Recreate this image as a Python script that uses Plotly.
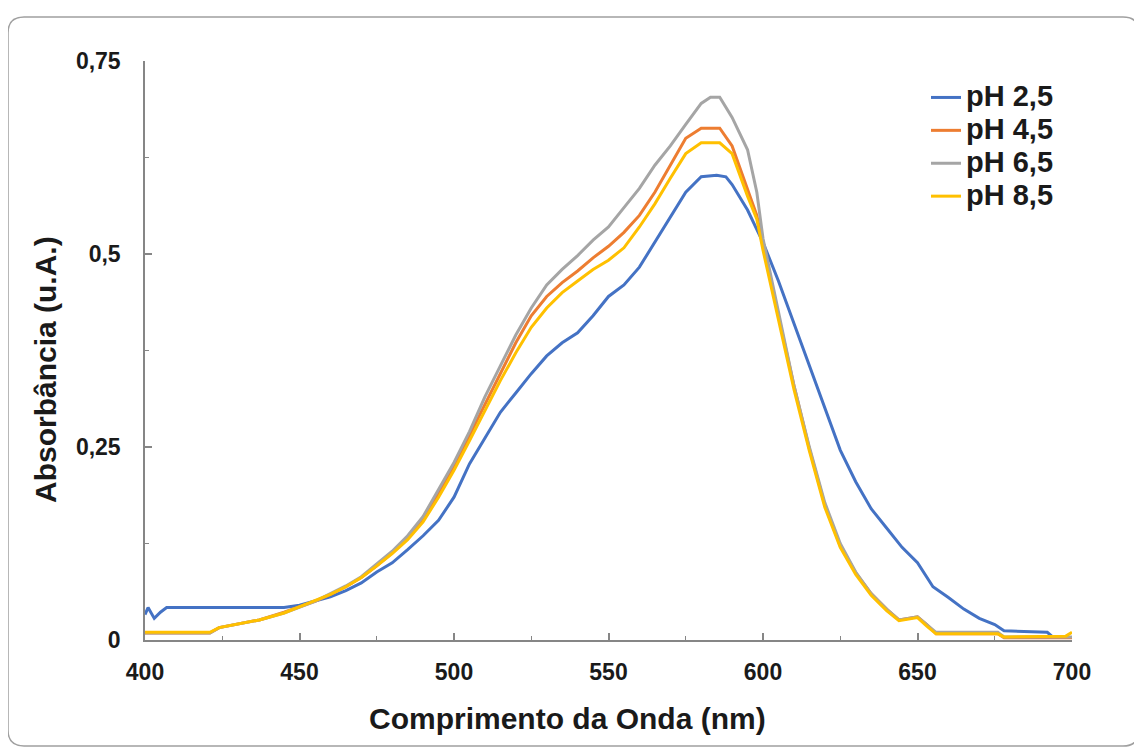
import plotly.graph_objects as go

# ---------------- data ----------------
wl_ph25 = [400, 401, 403, 405, 407, 445, 450, 455, 460, 465, 470, 475, 480, 485, 490, 495,
           500, 505, 510, 515, 520, 525, 530, 535, 540, 545, 550, 555, 560, 565, 570, 575,
           580, 585, 588, 590, 595, 600, 605, 610, 615, 620, 625, 630, 635, 640, 645, 650,
           655, 660, 665, 670, 675, 678, 692, 694]
abs_ph25 = [0.033, 0.042, 0.028, 0.036, 0.042, 0.042, 0.045, 0.050, 0.056, 0.064, 0.074, 0.088,
            0.100, 0.117, 0.135, 0.155, 0.185, 0.228, 0.262, 0.295, 0.320, 0.345, 0.368, 0.385,
            0.398, 0.420, 0.445, 0.460, 0.483, 0.515, 0.548, 0.580, 0.600, 0.602, 0.600, 0.590,
            0.557, 0.515, 0.465, 0.410, 0.355, 0.300, 0.246, 0.205, 0.170, 0.145, 0.120, 0.100,
            0.069, 0.055, 0.040, 0.028, 0.020, 0.012, 0.010, 0.003]

wl_common = [400, 421, 424, 437, 445, 450, 455, 460, 465, 470, 475, 480, 485, 490, 495,
             500, 505, 510, 515, 520, 525, 530, 535, 540, 545, 550, 555, 560, 565, 570, 575,
             580, 583, 586, 590, 595, 598, 600, 605, 610, 615, 620, 625, 630, 635, 640, 644,
             647, 650, 653, 656, 676, 678, 698, 700]

abs_ph45 = [0.009, 0.009, 0.016, 0.026, 0.036, 0.043, 0.050, 0.059, 0.069, 0.081, 0.096, 0.113,
            0.132, 0.156, 0.190, 0.225, 0.265, 0.305, 0.345, 0.385, 0.420, 0.445, 0.463, 0.478,
            0.495, 0.510, 0.528, 0.550, 0.580, 0.615, 0.650, 0.663, 0.663, 0.663, 0.640, 0.585,
            0.550, 0.510, 0.420, 0.330, 0.248, 0.175, 0.122, 0.087, 0.060, 0.040, 0.026, 0.028,
            0.030, 0.020, 0.008, 0.008, 0.003, 0.003, 0.003]

abs_ph65 = [0.009, 0.009, 0.016, 0.026, 0.035, 0.043, 0.050, 0.060, 0.070, 0.082, 0.098, 0.115,
            0.135, 0.160, 0.195, 0.230, 0.270, 0.315, 0.355, 0.395, 0.430, 0.460, 0.480, 0.498,
            0.518, 0.535, 0.560, 0.585, 0.615, 0.640, 0.668, 0.695, 0.703, 0.703, 0.677, 0.635,
            0.580, 0.520, 0.425, 0.330, 0.250, 0.178, 0.125, 0.088, 0.060, 0.040, 0.026, 0.028,
            0.030, 0.020, 0.010, 0.010, 0.004, 0.004, 0.004]

abs_ph85 = [0.010, 0.010, 0.016, 0.026, 0.035, 0.043, 0.050, 0.059, 0.069, 0.081, 0.096, 0.112,
            0.130, 0.153, 0.185, 0.220, 0.258, 0.298, 0.336, 0.372, 0.405, 0.430, 0.450, 0.465,
            0.480, 0.492, 0.508, 0.535, 0.565, 0.598, 0.630, 0.644, 0.644, 0.644, 0.630, 0.575,
            0.545, 0.505, 0.415, 0.325, 0.245, 0.172, 0.120, 0.085, 0.058, 0.038, 0.025, 0.027,
            0.029, 0.018, 0.008, 0.008, 0.004, 0.005, 0.010]

series_names = ["pH 2,5", "pH 4,5", "pH 6,5", "pH 8,5"]
series_x = [wl_ph25, wl_common, wl_common, wl_common]
series_y = [abs_ph25, abs_ph45, abs_ph65, abs_ph85]
series_colors = ["#4472C4", "#ED7D31", "#A5A5A5", "#FFC000"]

x_ticks = [400, 450, 500, 550, 600, 650, 700]
x_ticktext = ["400", "450", "500", "550", "600", "650", "700"]
y_ticks = [0, 0.25, 0.5, 0.75]
y_ticktext = ["0", "0,25", "0,5", "0,75"]

# ---------------- figure ----------------
W, H = 1142, 749
OFF = 8  # page body margin offset
# target plot-area in screen pixels: x 145..1072, y 61..640
PX0, PX1, PY0, PY1 = 145, 1072, 61, 640
L = PX0 - OFF
T = PY0 - OFF
R = W - (PX1 - OFF)
B = H - (PY1 - OFF)
pw, ph = PX1 - PX0, PY1 - PY0

def px2paper(px, py):
    """screen pixel -> paper coords"""
    return (px - PX0) / pw, (PY1 - py) / ph

fig = go.Figure()
for name, xs, ys, col in zip(series_names, series_x, series_y, series_colors):
    fig.add_trace(go.Scatter(
        x=xs, y=ys, mode="lines",
        name=f'<span style="font-size:29px">{name}</span>',
        line=dict(color=col, width=3)))

font_family = "Liberation Sans, Arial, sans-serif"
axis_col = "#868686"
txt_col = "#1a1a1a"

fig.update_layout(
    width=W, height=H, autosize=False,
    margin=dict(l=L, r=R, t=T, b=B, pad=0),
    paper_bgcolor="white", plot_bgcolor="white",
    font=dict(family=font_family, color=txt_col),
    showlegend=True,
    legend=dict(x=px2paper(926, 0)[0], y=px2paper(0, 76)[1], xanchor="left", yanchor="top",
                font=dict(size=23, family=font_family, color=txt_col, weight="bold"),
                bgcolor="rgba(0,0,0,0)", itemwidth=30, tracegroupgap=0),
)

fig.update_xaxes(
    range=[400, 700], tickvals=x_ticks, ticktext=x_ticktext,
    showline=True, linecolor=axis_col, linewidth=1.5,
    ticks="inside", ticklen=7, tickcolor=axis_col, tickwidth=1.5,
    minor=dict(ticks="inside", dtick=25, ticklen=4, tickcolor=axis_col, tickwidth=1.2),
    showgrid=False, zeroline=False,
    tickfont=dict(size=23, family=font_family, color=txt_col, weight="bold"),
    ticklabelstandoff=11,
)
fig.update_yaxes(
    range=[0, 0.75], tickvals=y_ticks, ticktext=y_ticktext,
    showline=True, linecolor=axis_col, linewidth=1.5,
    ticks="inside", ticklen=7, tickcolor=axis_col, tickwidth=1.5,
    minor=dict(ticks="inside", dtick=0.125, ticklen=4, tickcolor=axis_col, tickwidth=1.2),
    showgrid=False, zeroline=False,
    tickfont=dict(size=23, family=font_family, color=txt_col, weight="bold"),
    ticklabelstandoff=18,
)

# axis titles as annotations (positioned like the reference)
xt = px2paper(567, 718)
yt = px2paper(45, 370)
fig.add_annotation(text="Comprimento da Onda (nm)", xref="paper", yref="paper",
                   x=xt[0], y=xt[1], showarrow=False, xanchor="center", yanchor="middle",
                   font=dict(size=30, family=font_family, color=txt_col, weight="bold"))
fig.add_annotation(text="Absorbância (u.A.)", xref="paper", yref="paper",
                   x=yt[0], y=yt[1], showarrow=False, textangle=-90,
                   xanchor="center", yanchor="middle",
                   font=dict(size=30, family=font_family, color=txt_col, weight="bold"))

# rounded outer frame
x0, y0 = px2paper(8, 746)
x1, y1 = px2paper(1139, 17)
rx, ry = 16 / pw, 16 / ph
path = (f"M {x0+rx},{y1} L {x1-rx},{y1} Q {x1},{y1} {x1},{y1-ry} "
        f"L {x1},{y0+ry} Q {x1},{y0} {x1-rx},{y0} L {x0+rx},{y0} "
        f"Q {x0},{y0} {x0},{y0+ry} L {x0},{y1-ry} Q {x0},{y1} {x0+rx},{y1} Z")
fig.add_shape(type="path", path=path, xref="paper", yref="paper",
              line=dict(color="#A0A0A0", width=1.5), layer="below")

fig.write_html("out.html")
